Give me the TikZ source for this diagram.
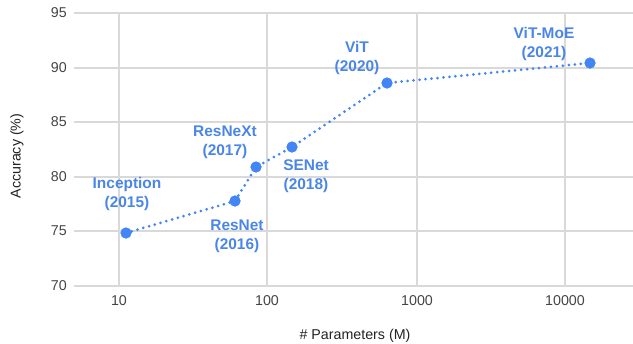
\documentclass[tikz,border=0pt]{standalone}
\usepackage{fontspec}
\setmainfont{Liberation Sans}
\definecolor{ptblue}{RGB}{66,133,244}
\definecolor{lblblue}{RGB}{74,134,232}
\definecolor{gridgray}{RGB}{217,217,217}
\definecolor{ticktext}{RGB}{68,68,68}
\definecolor{titletext}{RGB}{34,34,34}
\begin{document}
\begin{tikzpicture}[x=1bp,y=-1bp,
  gridline/.style={draw=gridgray,line width=1.4bp},
  ticklbl/.style={text=ticktext,font=\fontsize{14.3}{17}\selectfont,inner sep=0pt},
  axtitle/.style={text=titletext,font=\fontsize{14.3}{17}\selectfont,inner sep=0pt},
  datapt/.style={circle,fill=ptblue,minimum size=11bp,inner sep=0pt},
  modellbl/.style={text=lblblue,font=\fontsize{15.5}{19}\bfseries\selectfont,align=center,inner sep=0pt},
  trend/.style={draw=ptblue,line width=3bp,line cap=round,dash pattern=on 0bp off 6bp}]
\useasboundingbox (0,0) rectangle (633,343);
% horizontal grid lines and accuracy ticks
\foreach \v/\y in {95/13,90/68,85/122,80/177,75/231,70/286}{
  \draw[gridline] (74,\y) -- (633,\y);
  \node[ticklbl,anchor=east] (ytick\v) at (67,\y) {\v};
}
% vertical grid lines (log scale) and parameter ticks
\foreach \v/\x in {10/119,100/267,1000/417,10000/565}{
  \draw[gridline] (\x,13) -- (\x,286);
  \node[ticklbl] (xtick\v) at (\x,301) {\v};
}
% axis titles
\node[axtitle] (xtitle) at (355,336) {\# Parameters (M)};
\node[axtitle,rotate=90] (ytitle) at (17,156) {Accuracy (\%)};
% data points
\node[datapt] (inception) at (126,233) {};
\node[datapt] (resnet) at (235,201) {};
\node[datapt] (resnext) at (256,167) {};
\node[datapt] (senet) at (292,147) {};
\node[datapt] (vit) at (387,83) {};
\node[datapt] (vitmoe) at (590,63) {};
% dotted trend line, with the markers redrawn on top of it
\draw[trend] (inception.center) -- (resnet.center) -- (resnext.center) -- (senet.center) -- (vit.center) -- (vitmoe.center);
\foreach \n in {inception,resnet,resnext,senet,vit,vitmoe}{
  \fill[ptblue] (\n.center) circle (5.5bp);
}
% model labels
\node[modellbl] (lblinception) at (127,194) {Inception\\(2015)};
\node[modellbl] (lblresnet) at (237,236) {ResNet\\(2016)};
\node[modellbl] (lblresnext) at (225,142) {ResNeXt\\(2017)};
\node[modellbl] (lblsenet) at (306,176) {SENet\\(2018)};
\node[modellbl] (lblvit) at (357,58) {ViT\\(2020)};
\node[modellbl] (lblvitmoe) at (544,44) {ViT-MoE\\(2021)};
\end{tikzpicture}
\end{document}
